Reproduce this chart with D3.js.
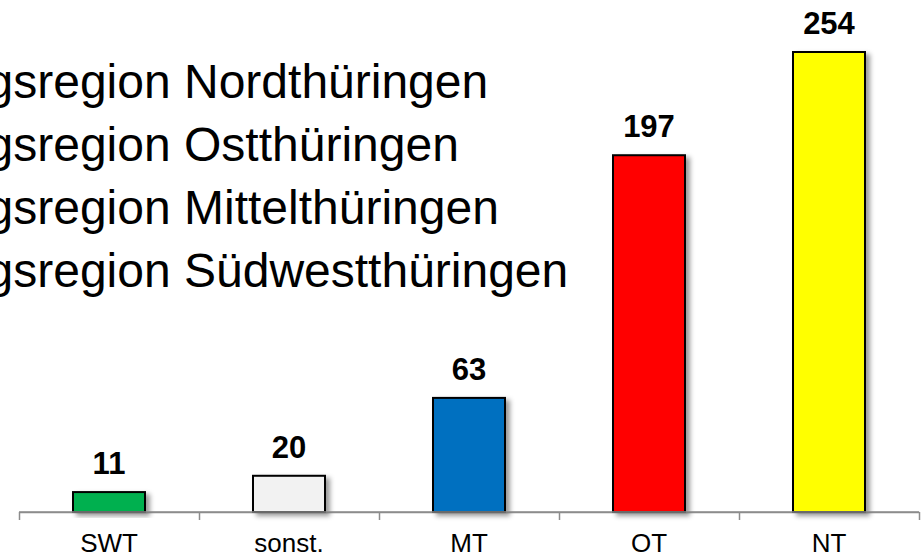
<!DOCTYPE html>
<html>
<head>
<meta charset="utf-8">
<script src="https://cdn.jsdelivr.net/npm/d3@7"></script>
<style>
  html, body { margin: 0; padding: 0; background: #fff; overflow: hidden; }
  svg { display: block; font-family: Arial, "Liberation Sans", sans-serif; }
</style>
</head>
<body>
<svg id="chart" width="924" height="555"></svg>
<script>
const categories = ["SWT", "sonst.", "MT", "OT", "NT"];
const values = [11, 20, 63, 197, 254];
const barColors = ["#00B050", "#F2F2F2", "#0070C0", "#FF0000", "#FFFF00"];
const legendLabels = [
  "Planungsregion Nordthüringen",
  "Planungsregion Ostthüringen",
  "Planungsregion Mittelthüringen",
  "Planungsregion Südwestthüringen"
];
const legendPrefix = "Planungsregion ";

const svg = d3.select("#chart");
const axisY = 512, left = 19, right = 919;
const FONT = "Arial, 'Liberation Sans', sans-serif";

const x = d3.scaleBand().domain(categories).range([left, right])
  .paddingInner(0.6).paddingOuter(0.3);
const y = d3.scaleLinear().domain([0, 254]).range([axisY, 52]);

// drop shadow
const defs = svg.append("defs");
const f = defs.append("filter").attr("id", "shadow")
  .attr("x", "-20%").attr("y", "-20%").attr("width", "150%").attr("height", "150%");
f.append("feDropShadow").attr("dx", 4).attr("dy", 3).attr("stdDeviation", 2.5)
  .attr("flood-color", "#000").attr("flood-opacity", 0.4);

// legend text (cut off on the left as in reference)
const fs = 48;
const tmp = svg.append("text").attr("font-size", fs).attr("font-family", FONT)
  .style("white-space", "pre").text(legendPrefix);
const prefixW = tmp.node().getComputedTextLength();
tmp.remove();
const nStart = 184;
svg.append("g").selectAll("text").data(legendLabels).join("text")
  .attr("x", nStart - prefixW)
  .attr("y", (d, i) => 98 + i * 63)
  .attr("font-size", fs)
  .attr("font-family", FONT)
  .attr("fill", "#000")
  .text(d => d);

// axis line with boundary ticks
const bounds = d3.scaleLinear().domain([0, categories.length]).range([left, right]);
const axisG = svg.append("g").attr("transform", `translate(0,${axisY})`)
  .call(d3.axisBottom(bounds).tickValues(d3.range(0, categories.length + 1))
    .tickSize(8).tickSizeOuter(0).tickFormat(""));
axisG.select(".domain").attr("stroke", "#8c8c8c").attr("stroke-width", 1.5);
axisG.selectAll(".tick line").attr("stroke", "#8c8c8c").attr("stroke-width", 1.5);

// bars
svg.append("g").selectAll("rect").data(values).join("rect")
  .attr("x", (d, i) => x(categories[i]))
  .attr("y", d => y(d))
  .attr("width", x.bandwidth())
  .attr("height", d => axisY - y(d))
  .attr("fill", (d, i) => barColors[i])
  .attr("stroke", "#000")
  .attr("stroke-width", 2)
  .attr("filter", "url(#shadow)");

// axis line on top of bar bottoms
svg.append("line").attr("x1", left).attr("x2", right).attr("y1", axisY).attr("y2", axisY)
  .attr("stroke", "#8c8c8c").attr("stroke-width", 1.5);

// value labels
svg.append("g").selectAll("text").data(values).join("text")
  .attr("x", (d, i) => x(categories[i]) + x.bandwidth() / 2)
  .attr("y", d => y(d) - 18)
  .attr("text-anchor", "middle")
  .attr("font-size", 31)
  .attr("font-weight", "bold")
  .attr("font-family", FONT)
  .attr("fill", "#000")
  .text(d => d);

// category labels
const catAxis = svg.append("g").attr("transform", `translate(0,${axisY})`)
  .call(d3.axisBottom(x).tickSize(0).tickPadding(0));
catAxis.attr("font-family", FONT);
catAxis.select(".domain").remove();
catAxis.selectAll("text")
  .attr("dy", null)
  .attr("y", 40)
  .attr("font-size", 26)
  .attr("font-family", FONT)
  .attr("fill", "#000");
</script>
</body>
</html>
